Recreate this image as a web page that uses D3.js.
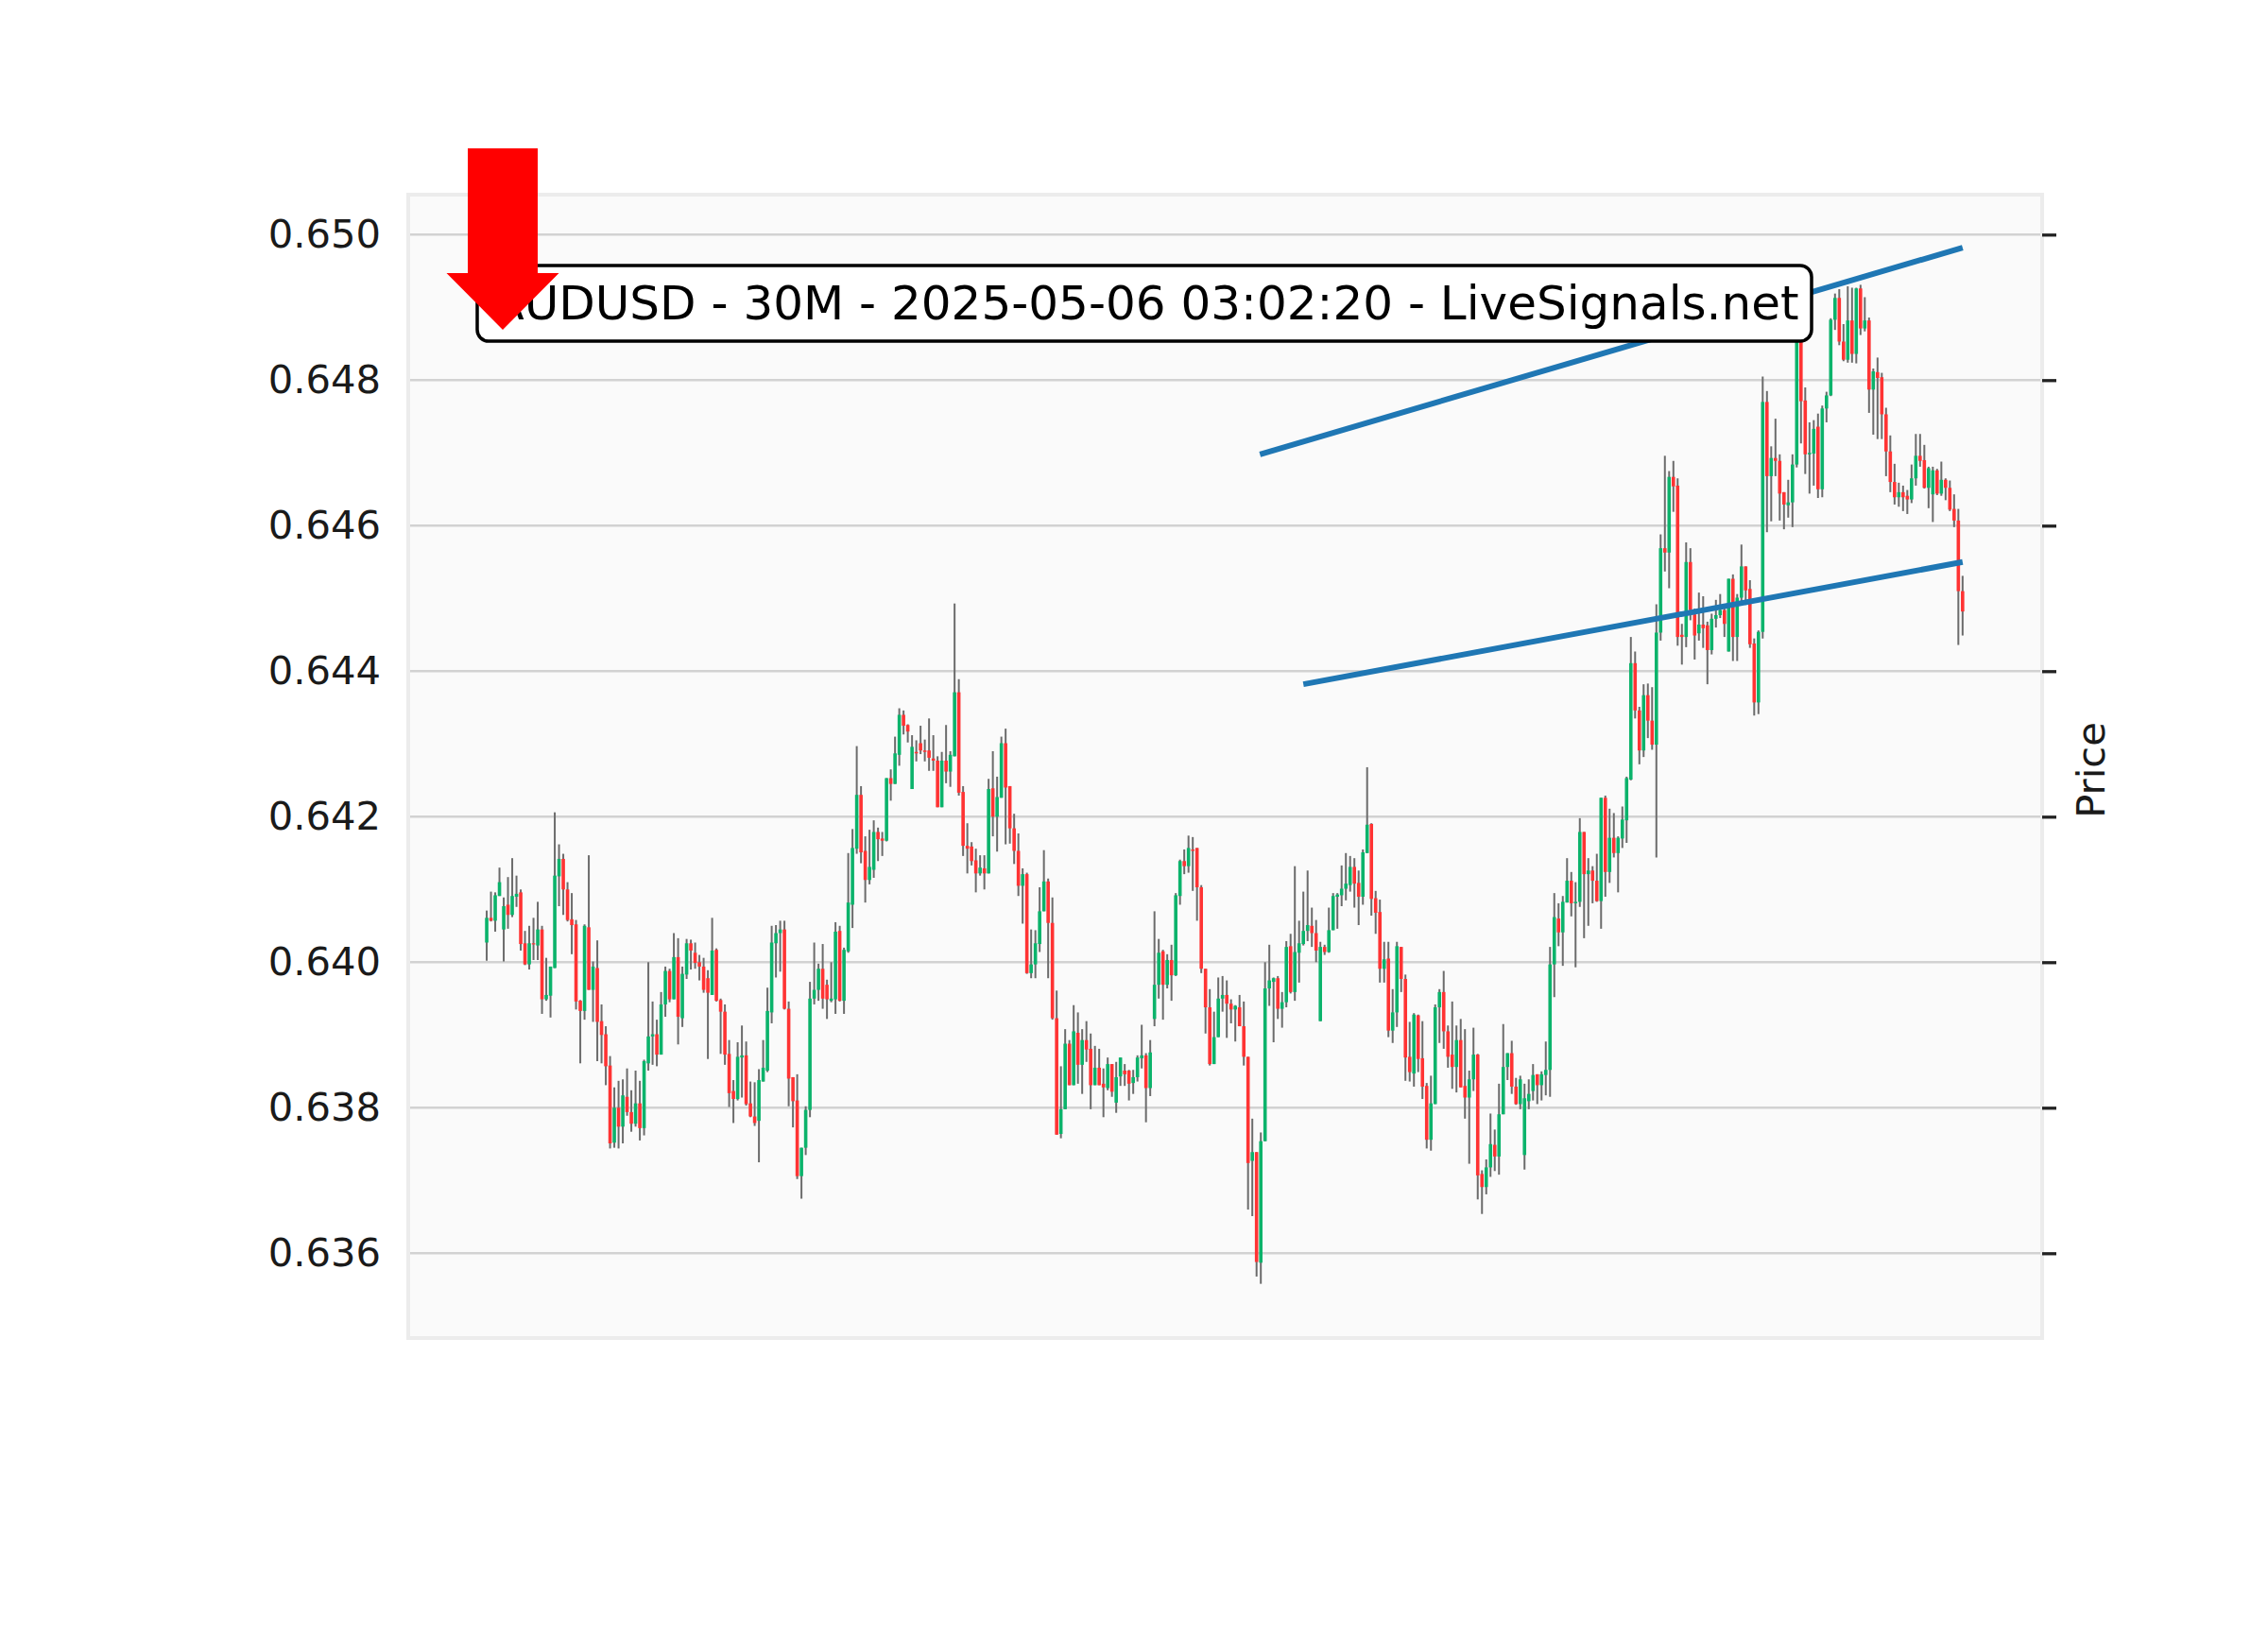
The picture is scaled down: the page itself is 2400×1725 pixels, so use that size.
<!DOCTYPE html>
<html>
<head>
<meta charset="utf-8">
<script src="https://cdn.jsdelivr.net/npm/d3@7"></script>
<style>
  html, body { margin: 0; padding: 0; background: #ffffff; }
  svg { display: block; }
</style>
</head>
<body>
<svg id="chart" width="2400" height="1725"></svg>
<script>
// AUDUSD 30-minute candles, oldest first
const open = [
0.64027,0.64061,0.64057,0.64091,0.64045,0.64079,0.64065,0.64090,0.64096,0.64026,
0.63997,0.64026,0.64023,0.64045,0.63949,0.63954,0.63992,0.64118,0.64142,0.64100,
0.64059,0.64052,0.63947,0.63933,0.64048,0.63962,0.63992,0.63919,0.63901,0.63858,
0.63752,0.63800,0.63774,0.63815,0.63794,0.63778,0.63806,0.63772,0.63861,0.63898,
0.63901,0.63873,0.63942,0.63988,0.63949,0.64007,0.63923,0.63983,0.64026,0.64013,
0.64000,0.63994,0.63978,0.63955,0.64017,0.63948,0.63932,0.63874,0.63823,0.63812,
0.63869,0.63872,0.63806,0.63788,0.63782,0.63836,0.63851,0.63931,0.64026,0.64040,
0.64045,0.63936,0.63842,0.63810,0.63706,0.63745,0.63797,0.63950,0.63962,0.63991,
0.63969,0.63947,0.63949,0.64043,0.63947,0.64015,0.64079,0.64156,0.64230,0.64153,
0.64113,0.64127,0.64179,0.64170,0.64167,0.64253,0.64245,0.64285,0.64340,0.64326,
0.64238,0.64289,0.64301,0.64291,0.64291,0.64280,0.64277,0.64213,0.64277,0.64262,
0.64283,0.64371,0.64234,0.64160,0.64159,0.64140,0.64122,0.64129,0.64122,0.64239,
0.64200,0.64226,0.64301,0.64242,0.64184,0.64153,0.64105,0.64121,0.63985,0.63997,
0.64025,0.64070,0.64111,0.64054,0.63923,0.63764,0.63798,0.63888,0.63831,0.63903,
0.63859,0.63893,0.63881,0.63831,0.63855,0.63833,0.63827,0.63860,0.63807,0.63843,
0.63851,0.63851,0.63834,0.63842,0.63868,0.63872,0.63827,0.63922,0.63969,0.64015,
0.63969,0.64003,0.63982,0.64091,0.64139,0.64132,0.64155,0.64157,0.64103,0.63991,
0.63938,0.63860,0.63897,0.63950,0.63955,0.63943,0.63935,0.63938,0.63912,0.63870,
0.63727,0.63739,0.63587,0.63754,0.63964,0.63973,0.63978,0.63936,0.63945,0.64022,
0.63959,0.64013,0.64025,0.64043,0.64050,0.64040,0.63919,0.64021,0.64014,0.64044,
0.64090,0.64092,0.64101,0.64106,0.64131,0.64109,0.64090,0.64150,0.64190,0.64088,
0.64069,0.63991,0.64005,0.63906,0.63931,0.64021,0.63977,0.63870,0.63847,0.63927,
0.63868,0.63830,0.63756,0.63805,0.63938,0.63959,0.63905,0.63873,0.63856,0.63893,
0.63830,0.63814,0.63839,0.63873,0.63709,0.63691,0.63718,0.63749,0.63733,0.63791,
0.63856,0.63875,0.63829,0.63805,0.63735,0.63809,0.63823,0.63846,0.63831,0.63845,
0.63852,0.63997,0.64060,0.64041,0.64082,0.64112,0.64081,0.64083,0.64179,0.64121,
0.64126,0.64112,0.64084,0.64226,0.64124,0.64171,0.64150,0.64170,0.64195,0.64251,
0.64411,0.64346,0.64291,0.64367,0.64332,0.64299,0.64453,0.64569,0.64563,0.64667,
0.64655,0.64450,0.64447,0.64550,0.64478,0.64452,0.64464,0.64463,0.64429,0.64472,
0.64477,0.64484,0.64427,0.64527,0.64447,0.64501,0.64544,0.64513,0.64438,0.64357,
0.64454,0.64770,0.64668,0.64693,0.64689,0.64646,0.64628,0.64632,0.64684,0.64854,
0.64772,0.64698,0.64699,0.64736,0.64650,0.64761,0.64779,0.64883,0.64913,0.64853,
0.64828,0.64882,0.64836,0.64926,0.64871,0.64882,0.64787,0.64811,0.64804,0.64753,
0.64702,0.64660,0.64639,0.64646,0.64641,0.64636,0.64665,0.64696,0.64690,0.64652,
0.64643,0.64676,0.64644,0.64663,0.64652,0.64623,0.64607,0.64510
];
const high = [
0.64071,0.64097,0.64096,0.64130,0.64089,0.64117,0.64143,0.64119,0.64100,0.64043,
0.64050,0.64061,0.64083,0.64050,0.64006,0.63994,0.64206,0.64162,0.64149,0.64110,
0.64095,0.64058,0.63948,0.64052,0.64147,0.64001,0.64030,0.63942,0.63912,0.63871,
0.63828,0.63837,0.63839,0.63854,0.63824,0.63851,0.63837,0.63866,0.64000,0.63946,
0.63921,0.63959,0.63994,0.63991,0.64040,0.64033,0.63994,0.64032,0.64031,0.64027,
0.64010,0.64006,0.63989,0.64061,0.64019,0.63950,0.63942,0.63893,0.63838,0.63890,
0.63913,0.63891,0.63836,0.63835,0.63853,0.63893,0.63965,0.64050,0.64051,0.64057,
0.64057,0.63946,0.63842,0.63846,0.63745,0.63802,0.63973,0.64027,0.63998,0.64025,
0.63976,0.64000,0.64055,0.64050,0.64020,0.64150,0.64183,0.64297,0.64242,0.64173,
0.64182,0.64195,0.64185,0.64179,0.64253,0.64265,0.64310,0.64349,0.64346,0.64327,
0.64312,0.64305,0.64325,0.64306,0.64335,0.64312,0.64283,0.64289,0.64326,0.64290,
0.64493,0.64389,0.64242,0.64191,0.64165,0.64156,0.64147,0.64147,0.64252,0.64290,
0.64255,0.64310,0.64321,0.64242,0.64204,0.64177,0.64129,0.64123,0.64045,0.64044,
0.64103,0.64154,0.64115,0.64089,0.63961,0.63857,0.63908,0.63893,0.63941,0.63931,
0.63908,0.63919,0.63902,0.63885,0.63881,0.63854,0.63869,0.63860,0.63863,0.63869,
0.63860,0.63852,0.63852,0.63872,0.63914,0.63875,0.63893,0.64070,0.64032,0.64017,
0.64011,0.64024,0.64095,0.64141,0.64155,0.64174,0.64172,0.64157,0.64106,0.63991,
0.63963,0.63932,0.63979,0.63981,0.63975,0.63949,0.63941,0.63955,0.63946,0.63870,
0.63785,0.63739,0.63766,0.64000,0.64024,0.63979,0.63981,0.63959,0.64029,0.64039,
0.64132,0.64057,0.64097,0.64126,0.64075,0.64058,0.64028,0.64024,0.64075,0.64095,
0.64095,0.64133,0.64150,0.64146,0.64143,0.64126,0.64155,0.64268,0.64191,0.64098,
0.64086,0.64028,0.64028,0.63963,0.64028,0.64021,0.63983,0.63918,0.63930,0.63928,
0.63919,0.63834,0.63844,0.63942,0.63963,0.63988,0.63913,0.63946,0.63913,0.63922,
0.63908,0.63851,0.63910,0.63874,0.63714,0.63729,0.63792,0.63770,0.63833,0.63915,
0.63875,0.63892,0.63841,0.63844,0.63833,0.63839,0.63860,0.63846,0.63850,0.63891,
0.64021,0.64095,0.64081,0.64091,0.64143,0.64124,0.64110,0.64198,0.64179,0.64143,
0.64132,0.64149,0.64226,0.64229,0.64211,0.64205,0.64173,0.64214,0.64255,0.64447,
0.64427,0.64351,0.64382,0.64383,0.64378,0.64492,0.64588,0.64696,0.64675,0.64689,
0.64665,0.64465,0.64577,0.64569,0.64486,0.64508,0.64503,0.64468,0.64479,0.64498,
0.64506,0.64488,0.64527,0.64533,0.64506,0.64574,0.64544,0.64525,0.64445,0.64456,
0.64805,0.64785,0.64709,0.64747,0.64698,0.64646,0.64663,0.64698,0.64856,0.64854,
0.64790,0.64742,0.64745,0.64754,0.64765,0.64784,0.64885,0.64919,0.64925,0.64877,
0.64929,0.64927,0.64927,0.64931,0.64914,0.64886,0.64816,0.64831,0.64810,0.64762,
0.64724,0.64685,0.64659,0.64655,0.64649,0.64684,0.64726,0.64726,0.64711,0.64681,
0.64681,0.64678,0.64688,0.64665,0.64662,0.64643,0.64623,0.64531
];
const low = [
0.64002,0.64056,0.64042,0.64091,0.64001,0.64046,0.64062,0.64076,0.64016,0.63996,
0.63990,0.64003,0.64003,0.63929,0.63947,0.63924,0.63992,0.64077,0.64065,0.64056,
0.64011,0.63935,0.63861,0.63921,0.63962,0.63918,0.63864,0.63861,0.63831,0.63744,
0.63745,0.63744,0.63751,0.63789,0.63767,0.63774,0.63755,0.63762,0.63851,0.63859,
0.63857,0.63873,0.63925,0.63945,0.63949,0.63887,0.63911,0.63977,0.63990,0.63991,
0.63975,0.63958,0.63867,0.63955,0.63946,0.63874,0.63859,0.63801,0.63779,0.63810,
0.63814,0.63803,0.63787,0.63775,0.63725,0.63836,0.63849,0.63916,0.63979,0.63987,
0.63935,0.63802,0.63773,0.63702,0.63675,0.63735,0.63787,0.63942,0.63947,0.63936,
0.63922,0.63945,0.63929,0.63946,0.63929,0.64013,0.64047,0.64149,0.64136,0.64082,
0.64107,0.64116,0.64139,0.64146,0.64166,0.64222,0.64245,0.64270,0.64313,0.64302,
0.64238,0.64276,0.64286,0.64276,0.64263,0.64263,0.64213,0.64213,0.64246,0.64241,
0.64283,0.64229,0.64146,0.64122,0.64133,0.64096,0.64119,0.64100,0.64122,0.64173,
0.64152,0.64226,0.64162,0.64163,0.64135,0.64091,0.64053,0.63984,0.63978,0.63978,
0.64014,0.64070,0.63978,0.63921,0.63763,0.63758,0.63798,0.63831,0.63831,0.63833,
0.63819,0.63863,0.63798,0.63831,0.63831,0.63787,0.63824,0.63815,0.63793,0.63830,
0.63830,0.63810,0.63819,0.63836,0.63854,0.63780,0.63816,0.63912,0.63950,0.63921,
0.63964,0.63947,0.63981,0.64079,0.64121,0.64123,0.64098,0.64057,0.63985,0.63902,
0.63858,0.63860,0.63897,0.63932,0.63896,0.63916,0.63891,0.63912,0.63858,0.63660,
0.63651,0.63568,0.63558,0.63754,0.63940,0.63890,0.63922,0.63910,0.63938,0.63957,
0.63947,0.63972,0.64023,0.64029,0.64021,0.64000,0.63919,0.64010,0.64013,0.64044,
0.64046,0.64077,0.64085,0.64097,0.64075,0.64051,0.64079,0.64150,0.64064,0.64039,
0.63972,0.63972,0.63897,0.63889,0.63911,0.63959,0.63837,0.63836,0.63829,0.63849,
0.63812,0.63744,0.63741,0.63805,0.63889,0.63881,0.63855,0.63826,0.63821,0.63828,
0.63785,0.63723,0.63823,0.63674,0.63654,0.63681,0.63705,0.63713,0.63708,0.63791,
0.63838,0.63819,0.63804,0.63798,0.63715,0.63798,0.63810,0.63805,0.63810,0.63817,
0.63815,0.63952,0.64022,0.63995,0.64082,0.64063,0.63993,0.64076,0.64033,0.64050,
0.64081,0.64083,0.64046,0.64090,0.64109,0.64144,0.64096,0.64157,0.64164,0.64250,
0.64335,0.64272,0.64282,0.64308,0.64292,0.64144,0.64442,0.64537,0.64514,0.64619,
0.64435,0.64409,0.64433,0.64470,0.64416,0.64442,0.64432,0.64382,0.64423,0.64460,
0.64473,0.64447,0.64427,0.64414,0.64414,0.64491,0.64491,0.64432,0.64339,0.64341,
0.64445,0.64591,0.64606,0.64668,0.64607,0.64595,0.64611,0.64598,0.64680,0.64713,
0.64671,0.64644,0.64655,0.64638,0.64639,0.64742,0.64778,0.64869,0.64848,0.64826,
0.64824,0.64824,0.64823,0.64862,0.64867,0.64755,0.64725,0.64719,0.64719,0.64668,
0.64646,0.64629,0.64626,0.64620,0.64616,0.64631,0.64655,0.64681,0.64651,0.64624,
0.64605,0.64642,0.64641,0.64635,0.64620,0.64598,0.64436,0.64449
];
const close = [
0.64061,0.64057,0.64092,0.64110,0.64077,0.64065,0.64091,0.64094,0.64025,0.63997,
0.64026,0.64025,0.64045,0.63949,0.63955,0.63994,0.64119,0.64142,0.64100,0.64058,
0.64051,0.63946,0.63933,0.64050,0.63962,0.63994,0.63918,0.63900,0.63857,0.63751,
0.63800,0.63774,0.63817,0.63794,0.63778,0.63806,0.63772,0.63864,0.63898,0.63901,
0.63873,0.63942,0.63988,0.63949,0.64007,0.63925,0.63984,0.64026,0.64016,0.63999,
0.63994,0.63962,0.63958,0.64016,0.63947,0.63932,0.63873,0.63820,0.63812,0.63870,
0.63872,0.63805,0.63788,0.63779,0.63838,0.63855,0.63933,0.64027,0.64040,0.64045,
0.63936,0.63840,0.63809,0.63706,0.63745,0.63797,0.63950,0.63962,0.63991,0.63950,
0.63949,0.63950,0.64042,0.63947,0.64017,0.64082,0.64157,0.64230,0.64151,0.64113,
0.64131,0.64179,0.64169,0.64167,0.64253,0.64245,0.64287,0.64340,0.64325,0.64317,
0.64296,0.64287,0.64291,0.64289,0.64281,0.64277,0.64213,0.64277,0.64262,0.64285,
0.64371,0.64233,0.64160,0.64156,0.64139,0.64122,0.64130,0.64122,0.64238,0.64200,
0.64227,0.64301,0.64240,0.64184,0.64153,0.64105,0.64121,0.63985,0.63997,0.64026,
0.64070,0.64111,0.64054,0.63923,0.63763,0.63798,0.63888,0.63831,0.63905,0.63859,
0.63893,0.63880,0.63831,0.63855,0.63831,0.63828,0.63860,0.63822,0.63842,0.63869,
0.63846,0.63833,0.63842,0.63869,0.63872,0.63827,0.63876,0.63969,0.64013,0.63969,
0.64003,0.63982,0.64092,0.64139,0.64132,0.64157,0.64153,0.64103,0.63991,0.63938,
0.63860,0.63897,0.63950,0.63955,0.63943,0.63935,0.63940,0.63912,0.63870,0.63724,
0.63739,0.63588,0.63754,0.63964,0.63975,0.63978,0.63936,0.63945,0.64021,0.63959,
0.64014,0.64026,0.64043,0.64051,0.64040,0.64016,0.64021,0.64014,0.64044,0.64091,
0.64093,0.64101,0.64108,0.64131,0.64108,0.64090,0.64151,0.64189,0.64087,0.64068,
0.63991,0.64004,0.63906,0.63931,0.64022,0.63977,0.63869,0.63849,0.63928,0.63867,
0.63829,0.63756,0.63806,0.63938,0.63959,0.63905,0.63870,0.63856,0.63893,0.63828,
0.63814,0.63839,0.63873,0.63707,0.63691,0.63718,0.63750,0.63733,0.63791,0.63856,
0.63875,0.63829,0.63805,0.63839,0.63813,0.63819,0.63845,0.63831,0.63846,0.63852,
0.63997,0.64062,0.64041,0.64083,0.64112,0.64081,0.64083,0.64179,0.64121,0.64126,
0.64112,0.64084,0.64226,0.64124,0.64171,0.64150,0.64171,0.64196,0.64253,0.64411,
0.64346,0.64291,0.64367,0.64332,0.64299,0.64453,0.64569,0.64563,0.64667,0.64654,
0.64447,0.64447,0.64550,0.64484,0.64449,0.64464,0.64459,0.64429,0.64472,0.64477,
0.64484,0.64465,0.64527,0.64447,0.64501,0.64544,0.64511,0.64437,0.64357,0.64454,
0.64770,0.64668,0.64693,0.64689,0.64644,0.64629,0.64632,0.64684,0.64854,0.64771,
0.64698,0.64700,0.64733,0.64650,0.64761,0.64779,0.64883,0.64913,0.64853,0.64828,
0.64882,0.64836,0.64926,0.64871,0.64882,0.64787,0.64812,0.64803,0.64753,0.64702,
0.64660,0.64639,0.64646,0.64639,0.64636,0.64665,0.64696,0.64689,0.64652,0.64679,
0.64676,0.64644,0.64663,0.64652,0.64622,0.64607,0.64510,0.64482
];

// Price axis ticks
const yTicks = [0.636, 0.638, 0.640, 0.642, 0.644, 0.646, 0.648, 0.650];
const yTickLabels = ["0.636", "0.638", "0.640", "0.642", "0.644", "0.646", "0.648", "0.650"];

// Trend lines: [candle index, price] at each end
const upperTrend = [[181.8, 0.64698], [347, 0.64982]];
const lowerTrend = [[192.0, 0.64382], [347, 0.64550]];

const titleText = "AUDUSD - 30M - 2025-05-06 03:02:20 - LiveSignals.net";
const axisLabel = "Price";

// Layout
const W = 2400, H = 1725;
const plot = { left: 432, right: 2161, top: 206, bottom: 1416 };
const colors = {
  up: "#0bb36b", down: "#ff3333", wick: "#6b6b6b",
  bg: "#fafafa", frame: "#ececec", grid: "#d2d2d2",
  trend: "#1f77b4", text: "#1a1a1a", arrow: "#ff0000"
};
const font = "'DejaVu Sans', Verdana, sans-serif";

const n = open.length;
const x = d3.scaleLinear()
  .domain([-18.45, n - 1 + 18.7])
  .range([plot.left, plot.right]);
const y = d3.scaleLinear()
  .domain([0.634835, 0.650549])
  .range([plot.bottom, plot.top]);

const svg = d3.select("#chart");
svg.append("rect").attr("width", W).attr("height", H).attr("fill", "#ffffff");

// Plot panel
svg.append("rect")
  .attr("x", plot.left).attr("y", plot.top)
  .attr("width", plot.right - plot.left).attr("height", plot.bottom - plot.top)
  .attr("fill", colors.bg).attr("stroke", colors.frame).attr("stroke-width", 4);

// Horizontal grid
svg.append("g").selectAll("line").data(yTicks).join("line")
  .attr("x1", plot.left + 2).attr("x2", plot.right - 2)
  .attr("y1", d => y(d)).attr("y2", d => y(d))
  .attr("stroke", colors.grid).attr("stroke-width", 2.6);

// Tick marks on the right edge
const rightAxis = svg.append("g")
  .attr("transform", `translate(${plot.right},0)`)
  .call(d3.axisRight(y).tickValues(yTicks).tickSize(15).tickFormat(""));
rightAxis.select(".domain").remove();
rightAxis.selectAll(".tick line").attr("stroke", "#222").attr("stroke-width", 3.3);

// Tick labels on the left
const leftAxis = svg.append("g")
  .attr("transform", `translate(${plot.left},0)`)
  .call(d3.axisLeft(y).tickValues(yTicks).tickSize(0).tickPadding(29)
    .tickFormat((d, i) => yTickLabels[i]));
leftAxis.select(".domain").remove();
leftAxis.selectAll("text")
  .attr("font-family", font).attr("font-size", 41.7).attr("fill", colors.text);

// Candles
const idx = d3.range(n);
const bodyW = 3.6;
const gC = svg.append("g");
gC.selectAll("line.wick").data(idx).join("line")
  .attr("class", "wick")
  .attr("x1", i => x(i)).attr("x2", i => x(i))
  .attr("y1", i => y(high[i])).attr("y2", i => y(low[i]))
  .attr("stroke", colors.wick).attr("stroke-width", 2);
gC.selectAll("rect.body").data(idx).join("rect")
  .attr("class", "body")
  .attr("x", i => x(i) - bodyW / 2)
  .attr("width", bodyW)
  .attr("y", i => y(Math.max(open[i], close[i])))
  .attr("height", i => Math.max(1.2, Math.abs(y(open[i]) - y(close[i]))))
  .attr("fill", i => close[i] >= open[i] ? colors.up : colors.down);

// Trend lines
const line = d3.line().x(d => x(d[0])).y(d => y(d[1]));
[upperTrend, lowerTrend].forEach(t => {
  svg.append("path").attr("d", line(t))
    .attr("fill", "none").attr("stroke", colors.trend).attr("stroke-width", 6);
});

// Axis title on the right
svg.append("text")
  .attr("transform", `translate(2212,${(plot.top + plot.bottom) / 2 + 4}) rotate(-90)`)
  .attr("text-anchor", "middle").attr("dominant-baseline", "central")
  .attr("font-family", font).attr("font-size", 41.7).attr("fill", colors.text)
  .text(axisLabel);

// Title box
const box = { x: 505, y: 281, w: 1412, h: 80 };
svg.append("rect")
  .attr("x", box.x).attr("y", box.y).attr("width", box.w).attr("height", box.h)
  .attr("rx", 12).attr("fill", "#ffffff").attr("stroke", "#000000").attr("stroke-width", 3.5);
svg.append("text")
  .attr("x", box.x + box.w / 2 + 1).attr("y", box.y + box.h / 2)
  .attr("text-anchor", "middle").attr("dominant-baseline", "central")
  .attr("font-family", font).attr("font-size", 50).attr("fill", "#000000")
  .text(titleText);

// Signal arrow (pointing down)
const arrow = { cx: 532, shaftW: 74, headW: 119, top: 157, headTop: 289, tip: 349 };
svg.append("path")
  .attr("d", [
    `M${arrow.cx - arrow.shaftW / 2},${arrow.top}`,
    `L${arrow.cx + arrow.shaftW / 2},${arrow.top}`,
    `L${arrow.cx + arrow.shaftW / 2},${arrow.headTop}`,
    `L${arrow.cx + arrow.headW / 2},${arrow.headTop}`,
    `L${arrow.cx},${arrow.tip}`,
    `L${arrow.cx - arrow.headW / 2},${arrow.headTop}`,
    `L${arrow.cx - arrow.shaftW / 2},${arrow.headTop}`, "Z"
  ].join(""))
  .attr("fill", colors.arrow);
</script>
</body>
</html>
